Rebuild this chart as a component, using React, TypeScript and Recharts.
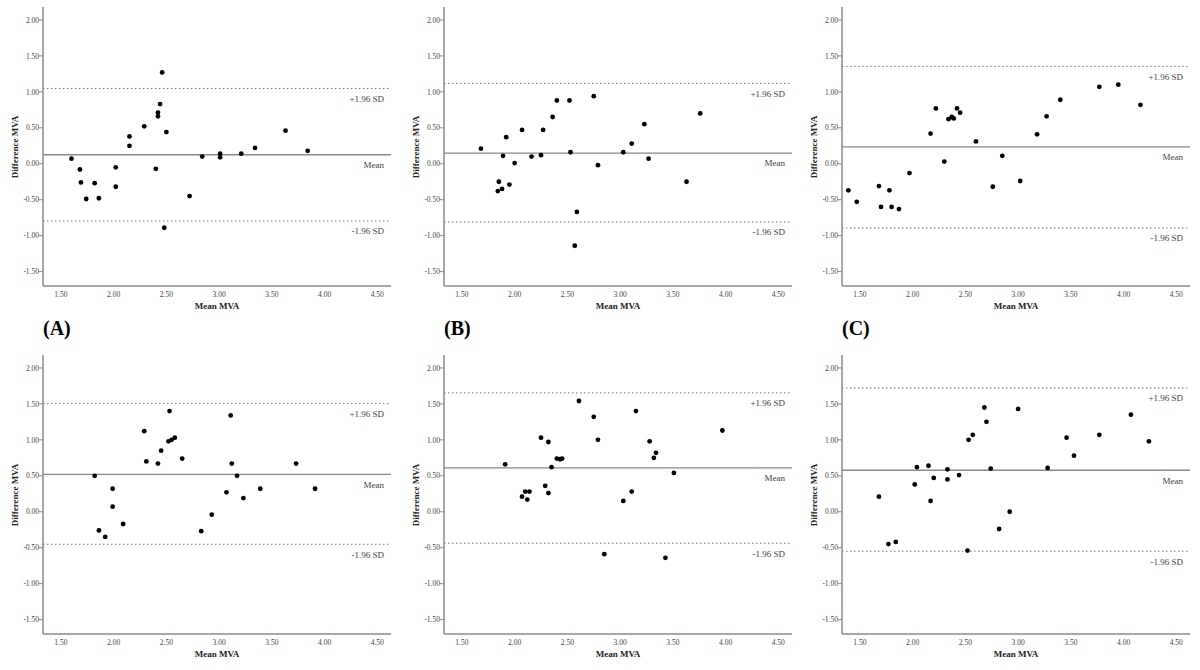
import React from 'react';
import { ScatterChart, Scatter, XAxis, YAxis, ReferenceLine } from 'recharts';

const SERIF = '"Liberation Serif", "Times New Roman", serif';

const xTicks = [1.5, 2, 2.5, 3, 3.5, 4, 4.5];
const yTicks = [-1.5, -1, -0.5, 0, 0.5, 1, 1.5, 2];

// mean / upper (+1.96 SD) / lower (-1.96 SD) for each panel
const limitsA = [0.125, 1.047, -0.796];
const limitsB = [0.149, 1.117, -0.81];
const limitsC = [0.236, 1.353, -0.893];
const limitsD = [0.521, 1.504, -0.452];
const limitsE = [0.609, 1.652, -0.438];
const limitsF = [0.577, 1.721, -0.549];

const meanA = [1.6, 1.68, 1.69, 1.74, 1.82, 1.86, 2.02, 2.02, 2.15, 2.15, 2.29, 2.4, 2.42, 2.42, 2.44, 2.46, 2.5, 2.48, 2.72, 2.84, 3.01, 3.01, 3.21, 3.34, 3.63, 3.84];
const diffA = [0.07, -0.08, -0.26, -0.49, -0.27, -0.48, -0.32, -0.05, 0.38, 0.25, 0.52, -0.07, 0.66, 0.71, 0.83, 1.27, 0.44, -0.89, -0.45, 0.1, 0.14, 0.09, 0.14, 0.22, 0.46, 0.18];

const meanB = [1.68, 1.85, 1.84, 1.88, 1.89, 1.92, 1.95, 2.0, 2.07, 2.16, 2.25, 2.27, 2.36, 2.4, 2.52, 2.53, 2.59, 2.57, 2.75, 2.79, 3.03, 3.11, 3.23, 3.27, 3.63, 3.76];
const diffB = [0.21, -0.25, -0.38, -0.35, 0.11, 0.37, -0.29, 0.01, 0.47, 0.1, 0.12, 0.47, 0.65, 0.88, 0.88, 0.16, -0.67, -1.14, 0.94, -0.02, 0.16, 0.28, 0.55, 0.07, -0.25, 0.7];

const meanC = [1.39, 1.47, 1.68, 1.7, 1.78, 1.8, 1.87, 1.97, 2.17, 2.22, 2.3, 2.34, 2.37, 2.39, 2.42, 2.45, 2.6, 2.76, 2.85, 3.02, 3.18, 3.27, 3.4, 3.77, 3.95, 4.16];
const diffC = [-0.37, -0.53, -0.31, -0.6, -0.37, -0.6, -0.63, -0.13, 0.42, 0.77, 0.03, 0.62, 0.65, 0.63, 0.77, 0.71, 0.31, -0.32, 0.11, -0.24, 0.41, 0.66, 0.89, 1.07, 1.1, 0.82];

const meanD = [1.82, 1.86, 1.92, 1.99, 1.99, 2.09, 2.29, 2.31, 2.42, 2.45, 2.53, 2.52, 2.55, 2.58, 2.65, 2.83, 2.93, 3.07, 3.11, 3.12, 3.17, 3.23, 3.39, 3.73, 3.91];
const diffD = [0.5, -0.26, -0.35, 0.32, 0.07, -0.17, 1.12, 0.7, 0.67, 0.85, 1.4, 0.98, 1.0, 1.03, 0.74, -0.27, -0.04, 0.27, 1.34, 0.67, 0.5, 0.19, 0.32, 0.67, 0.32];

const meanE = [1.91, 2.07, 2.1, 2.14, 2.12, 2.25, 2.29, 2.32, 2.32, 2.35, 2.4, 2.43, 2.45, 2.61, 2.75, 2.79, 2.85, 3.03, 3.11, 3.15, 3.28, 3.32, 3.34, 3.43, 3.51, 3.97];
const diffE = [0.66, 0.21, 0.28, 0.28, 0.17, 1.03, 0.36, 0.97, 0.26, 0.62, 0.74, 0.73, 0.74, 1.54, 1.32, 1.0, -0.59, 0.15, 0.28, 1.4, 0.98, 0.75, 0.82, -0.64, 0.54, 1.13];

const meanF = [1.68, 1.77, 1.84, 2.02, 2.04, 2.15, 2.17, 2.2, 2.33, 2.33, 2.44, 2.53, 2.57, 2.52, 2.68, 2.7, 2.74, 2.82, 2.92, 3.0, 3.28, 3.46, 3.53, 3.77, 4.07, 4.24];
const diffF = [0.21, -0.45, -0.42, 0.38, 0.62, 0.64, 0.15, 0.47, 0.59, 0.45, 0.51, 1.0, 1.07, -0.54, 1.45, 1.25, 0.6, -0.24, 0.0, 1.43, 0.61, 1.03, 0.78, 1.07, 1.35, 0.98];

const panels = [
  { id: 'A', left: 0, top: 0, means: meanA, diffs: diffA, limits: limitsA, letter: '(A)' },
  { id: 'B', left: 401, top: 0, means: meanB, diffs: diffB, limits: limitsB, letter: '(B)' },
  { id: 'C', left: 799, top: 0, means: meanC, diffs: diffC, limits: limitsC, letter: '(C)' },
  { id: 'D', left: 0, top: 348, means: meanD, diffs: diffD, limits: limitsD, letter: '' },
  { id: 'E', left: 401, top: 348, means: meanE, diffs: diffE, limits: limitsE, letter: '' },
  { id: 'F', left: 799, top: 348, means: meanF, diffs: diffF, limits: limitsF, letter: '' },
];

const AXIS = '#8a8a8a';
const TICK = { fill: '#444', fontSize: 7.5, fontFamily: SERIF };
const refLabel = (value: string) => ({
  value,
  position: 'insideTopRight' as const,
  offset: 7,
  fill: '#444',
  fontSize: 9,
  fontFamily: SERIF,
});

const Dot = (props: any) => <circle cx={props.cx} cy={props.cy} r={2.4} fill="#000" />;

function Panel({ p }: { p: (typeof panels)[number] }) {
  const data = p.means.map((m, i) => ({ x: m, y: p.diffs[i] }));
  const [mean, upper, lower] = p.limits;
  return (
    <div style={{ position: 'absolute', left: p.left, top: p.top, width: 400, height: 320 }}>
      <ScatterChart width={400} height={320} margin={{ top: 7, right: 9, bottom: 4, left: 0 }}>
        <XAxis
          type="number"
          dataKey="x"
          domain={[1.33, 4.63]}
          ticks={xTicks}
          tickFormatter={(v: number) => v.toFixed(2)}
          tick={TICK}
          tickLine={false}
          tickSize={4}
          tickMargin={2}
          height={30}
          axisLine={{ stroke: AXIS, strokeWidth: 1.5 }}
        />
        <YAxis
          type="number"
          dataKey="y"
          domain={[-1.7, 2.18]}
          ticks={yTicks}
          tickFormatter={(v: number) => v.toFixed(2)}
          tick={TICK}
          tickLine={{ stroke: AXIS }}
          tickSize={4}
          tickMargin={0}
          width={43}
          axisLine={{ stroke: AXIS, strokeWidth: 1.5 }}
        />
        <ReferenceLine y={upper} stroke="#777" strokeDasharray="1.5 2.5" label={refLabel('+1.96 SD')} />
        <ReferenceLine y={mean} stroke="#888" strokeWidth={1.3} label={refLabel('Mean')} />
        <ReferenceLine y={lower} stroke="#777" strokeDasharray="1.5 2.5" label={refLabel('-1.96 SD')} />
        <Scatter data={data} fill="#000" shape={Dot} isAnimationActive={false} />
      </ScatterChart>
      <div
        style={{
          position: 'absolute',
          left: 43,
          width: 348,
          top: 301,
          textAlign: 'center',
          fontFamily: SERIF,
          fontWeight: 'bold',
          fontSize: 9,
          lineHeight: '10px',
          color: '#222',
        }}
      >
        Mean MVA
      </div>
      <div
        style={{
          position: 'absolute',
          left: 15,
          top: 147,
          transform: 'translate(-50%, -50%) rotate(-90deg)',
          whiteSpace: 'nowrap',
          fontFamily: SERIF,
          fontWeight: 'bold',
          fontSize: 9,
          lineHeight: '10px',
          color: '#222',
        }}
      >
        Difference MVA
      </div>
      {p.letter && (
        <div
          style={{
            position: 'absolute',
            left: 43,
            top: 318,
            fontFamily: SERIF,
            fontWeight: 'bold',
            fontSize: 20,
            lineHeight: '20px',
            color: '#000',
          }}
        >
          {p.letter}
        </div>
      )}
    </div>
  );
}

export default function App() {
  return (
    <div
      style={{
        position: 'absolute',
        left: 0,
        top: 0,
        width: 1200,
        height: 670,
        background: '#fff',
        overflow: 'hidden',
      }}
    >
      {panels.map((p) => (
        <Panel key={p.id} p={p} />
      ))}
    </div>
  );
}
